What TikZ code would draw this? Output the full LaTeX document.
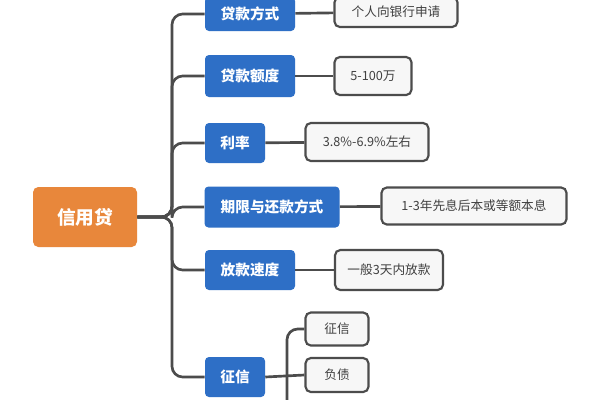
\documentclass[tikz,border=0pt]{standalone}
\usepackage{fontspec}
\setmainfont{Noto Sans CJK SC}
\begin{document}
\begin{tikzpicture}[x=0.75pt,y=-0.75pt,
  blue/.style={draw=none,fill=blue!55!cyan!70!black,rounded corners=3pt,text=white,font=\bfseries\fontsize{11}{12}\selectfont,anchor=center},
  grey/.style={draw=black!70,line width=1.6pt,fill=black!3,rounded corners=4pt,text=black!75,font=\fontsize{9.5}{11}\selectfont,anchor=center},
  ln/.style={draw=black!70,line width=2pt,rounded corners=8pt}]
\definecolor{bluec}{HTML}{2E6FC6}
\tikzset{blue/.append style={fill=bluec}}
\useasboundingbox[fill=white] (0,0) rectangle (600,400);
\node[fill={rgb,255:red,232;green,135;blue,59},rounded corners=4pt,text=white,font=\bfseries\fontsize{14}{16}\selectfont,minimum width=104*0.75pt,minimum height=60*0.75pt] (root) at (85,217) {信用贷};
\node[blue,minimum width=90*0.75pt,minimum height=34*0.75pt] (b1) at (250,14) {贷款方式};
\node[blue,minimum width=90*0.75pt,minimum height=42*0.75pt] (b2) at (250,76) {贷款额度};
\node[blue,minimum width=60*0.75pt,minimum height=40*0.75pt] (b3) at (235,143) {利率};
\node[blue,minimum width=135*0.75pt,minimum height=41*0.75pt] (b4) at (272,207) {期限与还款方式};
\node[blue,minimum width=90*0.75pt,minimum height=40*0.75pt] (b5) at (250,270) {放款速度};
\node[blue,minimum width=60*0.75pt,minimum height=40*0.75pt] (b6) at (235,377) {征信};
\node[grey,minimum width=123*0.75pt,minimum height=30*0.75pt] (g1) at (396,12) {个人向银行申请};
\node[grey,minimum width=77*0.75pt,minimum height=38*0.75pt] (g2) at (373,76) {5-100万};
\node[grey,minimum width=123*0.75pt,minimum height=38*0.75pt] (g3) at (367,142) {3.8\%-6.9\%左右};
\node[grey,minimum width=185*0.75pt,minimum height=37*0.75pt] (g4) at (474,206) {1-3年先息后本或等额本息};
\node[grey,minimum width=108*0.75pt,minimum height=40*0.75pt] (g5) at (389,270) {一般3天内放款};
\node[grey,minimum width=63*0.75pt,minimum height=33*0.75pt] (g6) at (337,329) {征信};
\node[grey,minimum width=63*0.75pt,minimum height=34*0.75pt] (g7) at (337,375) {负债};
\foreach \b in {b1,b2,b3,b4,b5,b6}{
  \draw[ln] (root.east) -- (172,217) |- (\b.west);}
\draw[ln] (b1) -- (g1); \draw[ln] (b2) -- (g2); \draw[ln] (b3) -- (g3);
\draw[ln] (b4) -- (g4); \draw[ln] (b5) -- (g5);
\draw[ln] (b6.east) -- (g7.west);
\draw[ln] (287,405) |- (g6.west);
\end{tikzpicture}
\end{document}
